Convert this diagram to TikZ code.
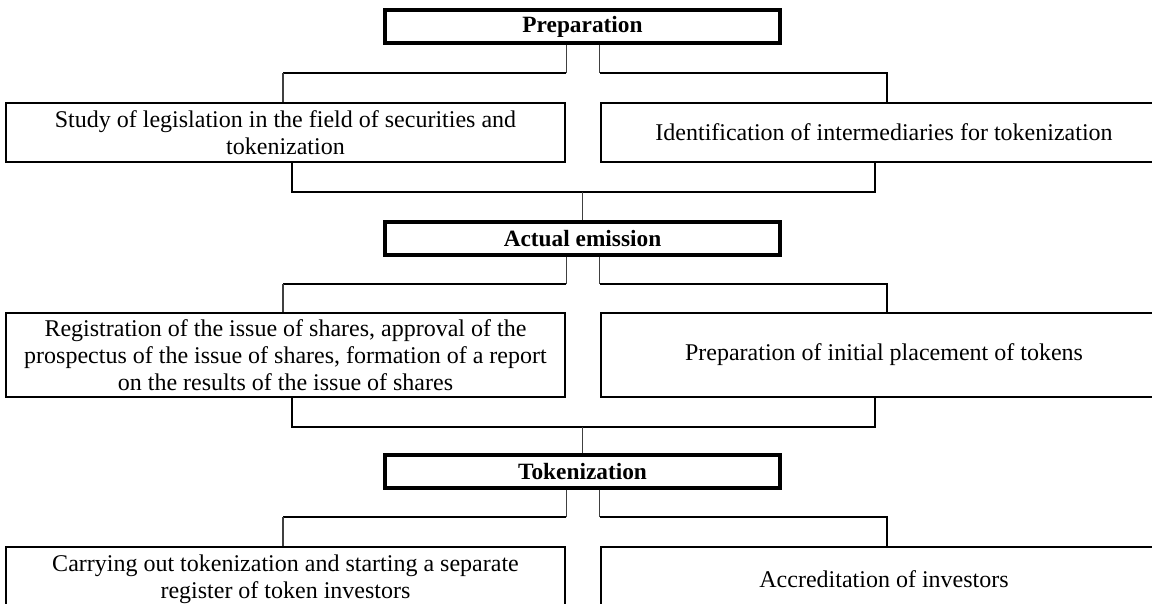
\documentclass[tikz,border=0pt]{standalone}
\usepackage{fontspec}
\setmainfont{Liberation Serif}
\usetikzlibrary{calc}
\tikzset{
  hdr/.style={draw, line width=2.6pt, font=\bfseries\fontsize{17.5}{20.25}\selectfont,
    minimum width=395*0.75pt, minimum height=33*0.75pt, inner sep=0pt},
  sub/.style={draw, line width=2pt, font=\fontsize{18}{20.25}\selectfont,
    align=center, inner sep=0pt},
  lbox/.style={sub, minimum width=559*0.75pt},
  rbox/.style={sub, minimum width=566*0.75pt},
  thinln/.style={line width=1pt, draw=black!75},
  thickln/.style={line width=1.9pt},
}
\begin{document}
\begin{tikzpicture}[x=0.75pt, y=-0.75pt]
\useasboundingbox (0,0) rectangle (1152,603);
\clip (0,0) rectangle (1152,603);

% ---------- level 1 ----------
\node[hdr] (prep) at (582.5,26.5) {Preparation};
\node[lbox, minimum height=59*0.75pt] (s1) at (285.5,132.5)
  {Study of legislation in the field of securities and\\tokenization};
\node[rbox, minimum height=59*0.75pt] (i1) at (884,132.5)
  {Identification of intermediaries for tokenization};

\coordinate (b1L) at (283,73);
\coordinate (b1R) at (887,73);
\draw[thinln] (prep.south -| s1.east) -- (s1.east |- b1L);
\draw[thickln] (s1.east |- b1L) -- (b1L);
\draw[thinln] (b1L) -- (b1L |- s1.north);
\draw[thinln] (prep.south -| i1.west) -- (i1.west |- b1R);
\draw[thickln] (i1.west |- b1R) -- (b1R) -- (b1R |- i1.north);

% ---------- level 2 ----------
\node[hdr] (act) at (582.5,238.5) {Actual emission};
\node[lbox, minimum height=84*0.75pt] (s2) at (285.5,355)
  {Registration of the issue of shares, approval of the\\prospectus of the issue of shares, formation of a report\\on the results of the issue of shares};
\node[rbox, minimum height=84*0.75pt] (i2) at (884,355)
  {Preparation of initial placement of tokens};

\coordinate (j1L) at (292,192);
\coordinate (j1R) at (875,192);
\draw[thickln] (j1L |- s1.south) -- (j1L) -- (j1R) -- (j1R |- i1.south);
\draw[thinln] (j1L -| act.north) -- (act.north);

\coordinate (b2L) at (283,284);
\coordinate (b2R) at (887,284);
\draw[thinln] (act.south -| s2.east) -- (s2.east |- b2L);
\draw[thickln] (s2.east |- b2L) -- (b2L);
\draw[thinln] (b2L) -- (b2L |- s2.north);
\draw[thinln] (act.south -| i2.west) -- (i2.west |- b2R);
\draw[thickln] (i2.west |- b2R) -- (b2R) -- (b2R |- i2.north);

% ---------- level 3 ----------
\node[hdr] (tok) at (582.5,471.5) {Tokenization};
\node[lbox, minimum height=65*0.75pt] (s3) at (285.5,579.5)
  {Carrying out tokenization and starting a separate\\register of token investors};
\node[rbox, minimum height=65*0.75pt] (i3) at (884,579.5)
  {Accreditation of investors};

\coordinate (j2L) at (292,427);
\coordinate (j2R) at (875,427);
\draw[thickln] (j2L |- s2.south) -- (j2L) -- (j2R) -- (j2R |- i2.south);
\draw[thinln] (j2L -| tok.north) -- (tok.north);

\coordinate (b3L) at (283,517);
\coordinate (b3R) at (887,517);
\draw[thinln] (tok.south -| s3.east) -- (s3.east |- b3L);
\draw[thickln] (s3.east |- b3L) -- (b3L);
\draw[thinln] (b3L) -- (b3L |- s3.north);
\draw[thinln] (tok.south -| i3.west) -- (i3.west |- b3R);
\draw[thickln] (i3.west |- b3R) -- (b3R) -- (b3R |- i3.north);
\end{tikzpicture}
\end{document}
